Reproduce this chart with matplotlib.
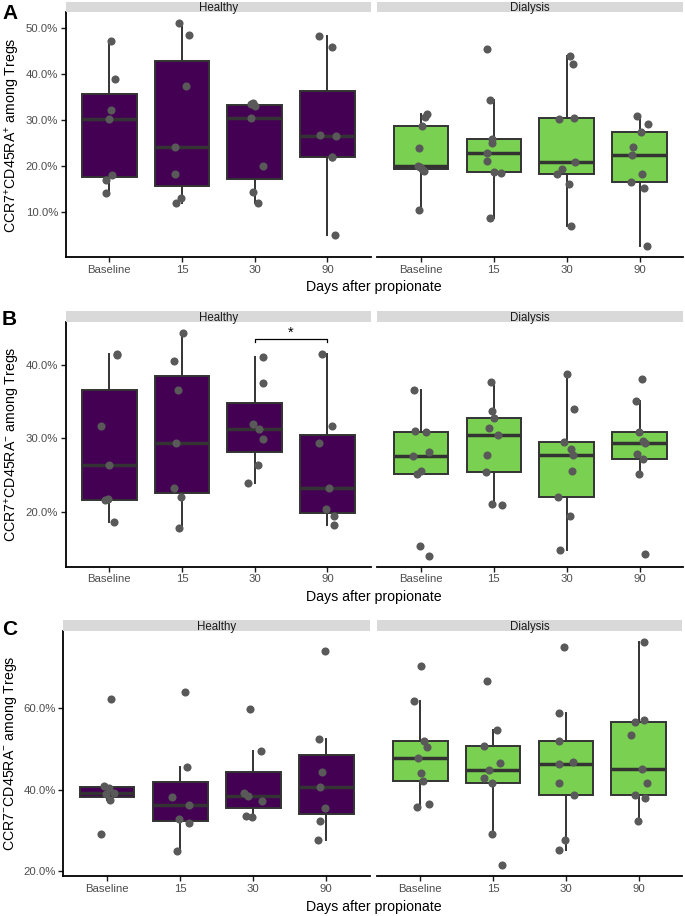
import matplotlib
matplotlib.use("Agg")
import matplotlib.pyplot as plt
from matplotlib.ticker import MultipleLocator, FuncFormatter
import numpy as np

plt.rcParams['font.family'] = ['Liberation Sans', 'DejaVu Sans']
plt.rcParams['mathtext.fontset'] = 'custom'
plt.rcParams['mathtext.rm'] = 'Liberation Sans'
plt.rcParams['mathtext.it'] = 'Liberation Sans:italic'

# ---------------- data ----------------
categories = ["Baseline", "15", "30", "90"]
groups = ["Healthy", "Dialysis"]
xlabel = "Days after propionate"

ylabel_A = r"CCR7$^{+}$CD45RA$^{+}$ among Tregs"
ylabel_B = r"CCR7$^{+}$CD45RA$^{-}$ among Tregs"
ylabel_C = r"CCR7$^{-}$CD45RA$^{-}$ among Tregs"

A_healthy = [[47.2, 39.0, 32.2, 30.2, 18.1, 17.0, 14.1],
             [51.0, 48.4, 37.4, 24.0, 18.3, 12.9, 12.0],
             [33.5, 33.6, 33.0, 30.5, 19.9, 14.2, 12.0],
             [48.3, 45.8, 26.8, 26.5, 22.0, 22.0, 4.9]]
A_dialysis = [[31.2, 30.7, 28.6, 23.9, 19.9, 19.8, 19.2, 18.8, 10.4],
              [45.5, 34.4, 25.9, 25.0, 22.8, 21.0, 18.7, 18.4, 8.7],
              [44.0, 42.2, 30.2, 30.4, 20.8, 19.2, 18.2, 16.1, 6.8],
              [30.8, 29.0, 27.4, 24.1, 22.3, 18.2, 16.4, 15.2, 2.5]]
B_healthy = [[41.4, 41.3, 31.7, 26.4, 21.8, 21.6, 18.6],
             [44.3, 40.5, 36.5, 29.3, 23.2, 22.0, 17.8],
             [41.0, 37.5, 32.0, 31.2, 29.9, 26.4, 24.0],
             [41.4, 31.6, 29.4, 23.2, 20.4, 19.4, 18.3]]
B_dialysis = [[36.5, 31.0, 30.8, 28.1, 27.6, 25.5, 25.2, 15.4, 14.1],
              [37.6, 33.7, 32.7, 31.4, 30.5, 27.7, 25.4, 21.1, 20.9],
              [38.7, 34.0, 29.5, 28.5, 27.7, 25.5, 22.1, 19.4, 14.8],
              [38.0, 35.0, 30.8, 29.6, 29.3, 27.9, 27.2, 25.2, 14.3]]
C_healthy = [[62.4, 41.0, 40.4, 39.3, 39.0, 37.4, 29.0],
             [64.1, 45.5, 38.3, 36.3, 32.9, 31.7, 24.8],
             [59.9, 49.5, 39.2, 38.5, 37.2, 33.6, 33.2],
             [74.1, 52.6, 44.3, 40.7, 35.6, 32.2, 27.5]]
C_dialysis = [[70.5, 61.9, 52.1, 50.5, 47.7, 44.0, 42.1, 36.6, 35.8],
              [66.8, 54.7, 50.8, 46.6, 44.8, 43.0, 41.7, 29.1, 21.5],
              [75.1, 58.9, 52.1, 46.3, 46.8, 41.7, 38.6, 27.5, 25.1],
              [76.4, 56.6, 57.1, 53.5, 45.0, 41.6, 38.7, 37.9, 32.4]]

# horizontal jitter (category units)
A_healthy_jit = [[0.03, 0.08, 0.03, -0.01, 0.04, -0.04, -0.05],
                 [-0.04, 0.10, 0.06, -0.10, -0.09, -0.02, -0.08],
                 [-0.05, -0.02, 0.01, -0.05, 0.12, -0.02, 0.04],
                 [-0.12, 0.06, -0.10, 0.12, 0.07, 0.06, 0.10]]
A_dialysis_jit = [[0.08, 0.06, 0.02, -0.03, -0.04, -0.01, 0.01, 0.04, -0.03],
                  [-0.10, -0.05, -0.03, -0.03, -0.10, -0.09, 0.0, 0.10, -0.05],
                  [0.04, 0.09, -0.11, 0.10, 0.11, -0.06, -0.14, 0.03, 0.06],
                  [-0.03, 0.11, 0.02, -0.09, -0.11, 0.03, -0.12, 0.06, 0.10]]
B_healthy_jit = [[0.11, 0.10, -0.11, 0.0, -0.02, -0.06, 0.06],
                 [0.01, -0.11, -0.06, -0.08, -0.11, -0.02, -0.04],
                 [0.11, 0.12, -0.03, 0.06, 0.12, 0.05, -0.09],
                 [-0.07, 0.06, -0.11, 0.02, -0.02, 0.09, 0.09]]
B_dialysis_jit = [[-0.10, -0.08, 0.07, 0.11, -0.11, 0.0, -0.05, -0.02, 0.11],
                  [-0.04, -0.03, 0.0, -0.07, 0.05, -0.10, -0.11, -0.03, 0.11],
                  [0.0, 0.10, -0.04, 0.06, 0.09, 0.07, -0.12, 0.04, -0.09],
                  [0.03, -0.05, -0.01, 0.04, 0.07, -0.04, 0.05, -0.01, 0.08]]
C_healthy_jit = [[0.05, -0.04, 0.02, 0.10, -0.01, 0.04, -0.09],
                 [0.07, 0.10, -0.11, 0.12, -0.01, 0.12, -0.04],
                 [-0.05, 0.11, -0.13, -0.07, 0.12, -0.10, -0.01],
                 [-0.01, -0.10, -0.06, -0.09, -0.02, -0.09, -0.11]]
C_dialysis_jit = [[0.01, -0.09, 0.05, 0.09, -0.03, 0.01, 0.04, 0.12, -0.04],
                  [-0.08, 0.06, -0.13, 0.10, -0.05, -0.12, -0.01, -0.02, 0.12],
                  [-0.02, -0.10, -0.10, -0.10, 0.10, -0.10, 0.11, -0.01, -0.10],
                  [0.08, -0.05, 0.08, -0.11, 0.05, 0.11, -0.05, 0.09, -0.01]]

# significance annotation in panel B (Healthy, 30 vs 90)
sig_pair = ("30", "90")
sig_y = 43.5
sig_label = "*"

# ---------------- style ----------------
W, H = 685, 916
fill = {"Healthy": "#440154", "Dialysis": "#7AD151"}
edge = "#333333"
pt_col = "#595959"
strip_col = "#D9D9D9"
tick_col = "#4D4D4D"

fig = plt.figure(figsize=(W / 100, H / 100), dpi=100)


def rect(l, t, r, b):
    return [l / W, 1 - b / H, (r - l) / W, (b - t) / H]


panels = [
    dict(letter="A", data=(A_healthy, A_dialysis), jit=(A_healthy_jit, A_dialysis_jit),
         ylabel=ylabel_A, step=10, top=12.3, bottom=257.3, strip_top=1.7,
         xs=((65.7, 371.0), (377.3, 683.3)), title_y=287, letter_y=13.5, ylab_x=12.7, sig=False),
    dict(letter="B", data=(B_healthy, B_dialysis), jit=(B_healthy_jit, B_dialysis_jit),
         ylabel=ylabel_B, step=10, top=321.7, bottom=566.7, strip_top=311.0,
         xs=((65.7, 371.0), (377.3, 683.3)), title_y=597, letter_y=319.5, ylab_x=12.7, sig=True),
    dict(letter="C", data=(C_healthy, C_dialysis), jit=(C_healthy_jit, C_dialysis_jit),
         ylabel=ylabel_C, step=20, top=630.7, bottom=876.0, strip_top=620.0,
         xs=((63.3, 370.0), (376.7, 682.3)), title_y=907, letter_y=629.5, ylab_x=11.0, sig=False),
]

pos = np.arange(1, len(categories) + 1)

for p in panels:
    allv = [v for grp in p["data"] for lst in grp for v in lst]
    lo, hi = min(allv), max(allv)
    rng = hi - lo
    ylim = (lo - 0.05 * rng, hi + 0.05 * rng)
    for gi, g in enumerate(groups):
        l, r = p["xs"][gi]
        ax = fig.add_axes(rect(l, p["top"], r, p["bottom"]))
        sax = fig.add_axes(rect(l, p["strip_top"], r, p["top"]))
        sax.set_facecolor(strip_col)
        sax.set_xticks([]); sax.set_yticks([])
        for s in sax.spines.values():
            s.set_visible(False)
        sax.text(0.5, 0.38, g, ha="center", va="center", fontsize=8.3, color="#1A1A1A",
                 transform=sax.transAxes)

        vals = p["data"][gi]
        jits = p["jit"][gi]
        bp = ax.boxplot(vals, positions=pos, widths=0.75, patch_artist=True,
                        showfliers=False, showcaps=False, whis=1.5,
                        boxprops=dict(facecolor=fill[g], edgecolor=edge, linewidth=1.4),
                        whiskerprops=dict(color=edge, linewidth=1.4),
                        medianprops=dict(color=edge, linewidth=2.5, solid_capstyle="butt"),
                        zorder=2)
        for i, (v, j) in enumerate(zip(vals, jits)):
            ax.scatter(pos[i] + np.array(j), v, s=34, color=pt_col, zorder=3, linewidths=0)

        ax.set_xlim(0.4, len(categories) + 0.6)
        ax.set_ylim(*ylim)
        ax.set_xticks(pos)
        ax.set_xticklabels(categories)
        ax.yaxis.set_major_locator(MultipleLocator(p["step"]))
        ax.yaxis.set_major_formatter(FuncFormatter(lambda v, _: f"{v:.1f}%"))
        ax.tick_params(axis="both", labelsize=8.2, labelcolor=tick_col, length=3.5,
                       width=1.0, pad=2, color="#1A1A1A")
        for s in ("top", "right"):
            ax.spines[s].set_visible(False)
        ax.spines["bottom"].set_linewidth(1.3)
        ax.spines["left"].set_linewidth(1.3)
        if gi == 1:
            ax.spines["left"].set_visible(False)
            ax.tick_params(axis="y", left=False, labelleft=False)
        ax.set_facecolor("white")

        if p["sig"] and gi == 0:
            x1 = categories.index(sig_pair[0]) + 1
            x2 = categories.index(sig_pair[1]) + 1
            drop = 0.5
            ax.plot([x1, x1, x2, x2], [sig_y - drop, sig_y, sig_y, sig_y - drop],
                    color="black", linewidth=0.9, zorder=4)
            ax.text((x1 + x2) / 2, sig_y - 0.2, sig_label, ha="center", va="bottom",
                    fontsize=10.5, color="black")

    # axis title, y label, panel letter
    fig.text(374 / W, 1 - p["title_y"] / H, xlabel, ha="center", va="center", fontsize=10.2)
    fig.text(p["ylab_x"] / W, 1 - ((p["top"] + p["bottom"]) / 2) / H, p["ylabel"],
             rotation=90, ha="center", va="center", fontsize=10.2)
    fig.text(2 / W, 1 - p["letter_y"] / H, p["letter"], ha="left", va="center",
             fontsize=15, fontweight="bold")

fig.savefig("out.png", dpi=100)
